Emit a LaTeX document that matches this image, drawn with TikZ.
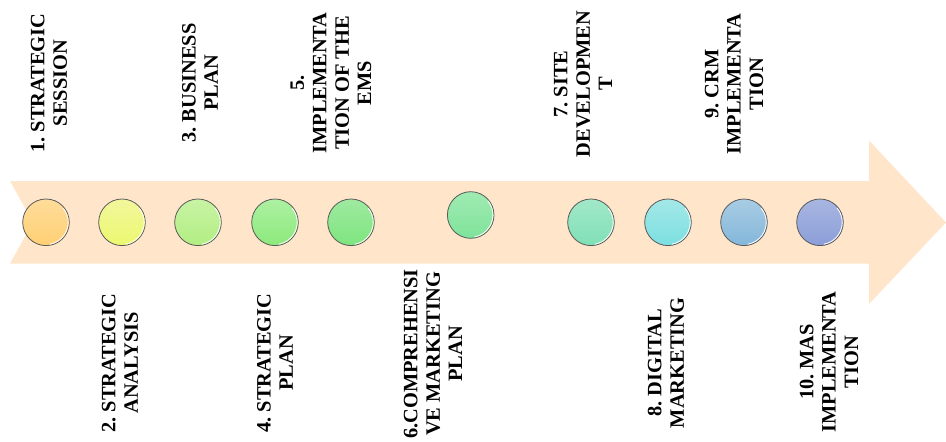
\documentclass[tikz,border=0pt]{standalone}
\usepackage{fontspec}
\setmainfont{Liberation Serif}
\frenchspacing
\definecolor{band}{HTML}{FFE6CA}
\definecolor{rim}{HTML}{5A5A5A}
% bead colours, top and bottom of each gradient
\definecolor{b1t}{HTML}{FFDC9A}\definecolor{b1b}{HTML}{FFD074}
\definecolor{b2t}{HTML}{F2F79C}\definecolor{b2b}{HTML}{ECF870}
\definecolor{b3t}{HTML}{C8F3A4}\definecolor{b3b}{HTML}{B2EE82}
\definecolor{b4t}{HTML}{ADF1A2}\definecolor{b4b}{HTML}{8CE97C}
\definecolor{b5t}{HTML}{9EEAA0}\definecolor{b5b}{HTML}{7EE57E}
\definecolor{b6t}{HTML}{A0EBB2}\definecolor{b6b}{HTML}{7FE39A}
\definecolor{b7t}{HTML}{A2E8C8}\definecolor{b7b}{HTML}{80E0B6}
\definecolor{b8t}{HTML}{A4E8E8}\definecolor{b8b}{HTML}{7CDFE0}
\definecolor{b9t}{HTML}{A8CCE4}\definecolor{b9b}{HTML}{84B7DA}
\definecolor{b10t}{HTML}{A9B6E2}\definecolor{b10b}{HTML}{8B9ED8}
\tikzset{
  bead/.style={circle, minimum size=46.6pt, inner sep=0pt,
    top color=b#1t, bottom color=b#1b, draw=rim, line width=0.8pt},
  steplabel/.style={rotate=90, align=center, inner sep=0pt,
    font=\fontsize{20.4}{22.4}\selectfont\bfseries}
}
\begin{document}
\begin{tikzpicture}[x=1pt,y=-1pt]
\useasboundingbox (0,0) rectangle (946,442);

% notched arrow band
\fill[band] (10,181) -- (869,181) -- (869,140.5) -- (946,222.5)
  -- (869,304) -- (869,263.5) -- (10,263.5) -- (33,222.3) -- cycle;

% milestone beads
\node[bead=1]  (c1)  at (46,222.3)  {};
\node[bead=2]  (c2)  at (122,222.3) {};
\node[bead=3]  (c3)  at (198,222.3) {};
\node[bead=4]  (c4)  at (275,222.3) {};
\node[bead=5]  (c5)  at (351,222.3) {};
\node[bead=6]  (c6)  at (470.7,215) {};
\node[bead=7]  (c7)  at (591,222.3) {};
\node[bead=8]  (c8)  at (668,222.3) {};
\node[bead=9]  (c9)  at (744,222.3) {};
\node[bead=10] (c10) at (820,222.3) {};

% light rim highlight on the lower right of each bead
\foreach \i in {1,...,10}
  \draw[white, line width=0.8pt] (c\i.center) ++(-80:22.2pt)
    arc[start angle=-80, end angle=40, radius=22.2pt];

% labels above the band
\node[steplabel] (t1)  at (49,83)  {1. STRATEGIC\\SESSION};
\node[steplabel] (t3)  at (200,83) {3. BUSINESS\\PLAN};
\node[steplabel] (t5)  at (331,83) {5.\\IMPLEMENTA\\TION OF THE\\EMS};
\node[steplabel] (t7)  at (583,84) {7. SITE\\DEVELOPMEN\\T};
\node[steplabel] (t9)  at (734,84) {9. CRM\\IMPLEMENTA\\TION};

% labels below the band
\node[steplabel] (t2)  at (120,363) {2. STRATEGIC\\ANALYSIS};
\node[steplabel] (t4)  at (275,363) {4. STRATEGIC\\PLAN};
\node[steplabel] (t6)  at (433,354) {6.COMPREHENSI\\VE MARKETING\\PLAN};
\node[steplabel] (t8)  at (666,363) {8. DIGITAL\\MARKETING};
\node[steplabel] (t10) at (829,362) {10. MAS\\IMPLEMENTA\\TION};
\end{tikzpicture}
\end{document}
